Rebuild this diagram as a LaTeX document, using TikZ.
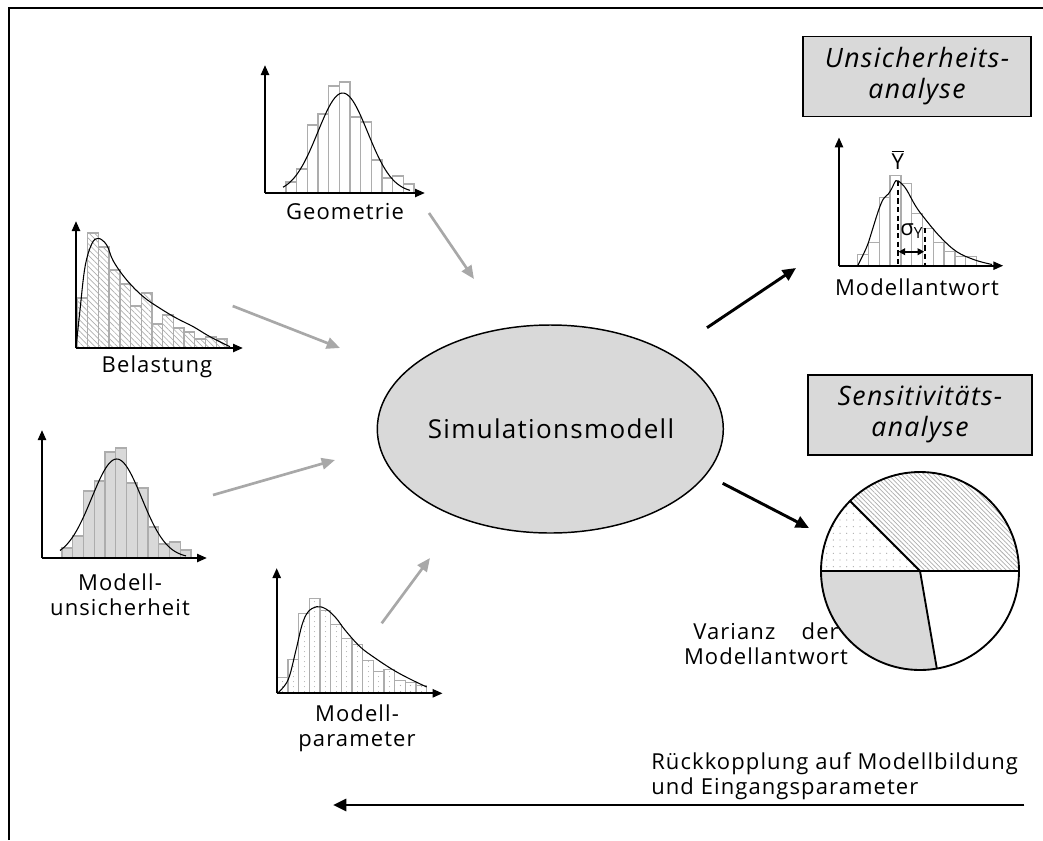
\documentclass[tikz,border=0pt]{standalone}
\usepackage{fontspec}
\setmainfont{Open Sans}[LetterSpace=5]
\usetikzlibrary{arrows.meta,patterns.meta,shapes.geometric}
\definecolor{barc}{gray}{0.68}
\definecolor{fillg}{gray}{0.85}
\definecolor{arrg}{gray}{0.66}
\newcommand\myhisto[5]{%
  \foreach \h [count=\i] in {#4} {\path[#5] ({#1+(\i-1)*#3},#2) rectangle ++(#3,-\h);}}
\begin{document}
\begin{tikzpicture}[x=0.75pt,y=-0.75pt,
  axis/.style={line width=1.7pt,-{Triangle[length=7.5pt,width=6pt]}},
  bar/.style={draw=barc,line width=1pt},
  curve/.style={line width=0.8pt,black},
  lbl/.style={font=\fontsize{16.5}{19}\selectfont,inner sep=0pt},
  garrow/.style={arrg,line width=2pt,-{Triangle[length=10pt,width=8.5pt]}},
  barrow/.style={black,line width=2.2pt,-{Triangle[length=10pt,width=9pt]}},
  titlebox/.style={draw=black,fill=fillg,line width=1pt},
  boxtxt/.style={font=\fontsize{20}{23}\selectfont\itshape,inner sep=0pt}]
\useasboundingbox (0,0) rectangle (1043,840);
% frame
\draw[line width=1.3pt] (9,840) -- (9,8) -- (1043,8);

% ---------- Geometrie ----------
\myhisto{286}{193}{10.67}{11,24,68,79,107,111,76,71,33,15,17,9}{bar,fill=white}
\draw[curve] plot[domain=283:410,samples=70,smooth] (\x,{193-100*exp(-((\x-342.7)/25)^2/2)});
\draw[axis] (265,193) -- (265,65);
\draw[axis] (265,193) -- (425,193);
\node[lbl] (geo) at (345,212) {Geometrie};

% ---------- Belastung ----------
\myhisto{77}{348}{10.71}{50,115,101,78,64,42,55,24,33,20,16,9,11,9}{bar,pattern={Lines[angle=-45,distance=3pt,line width=0.5pt]},pattern color=barc}
\draw[curve] plot[smooth,tension=0.6] coordinates {(76,348) (80,310) (85,267) (91.7,244) (98.3,238.3) (106.7,245) (113.3,261) (126.7,280) (143.3,296.7) (160,308.3) (176.7,318.3) (193.3,326.7) (210,336.7) (230,346.7)};
\draw[axis] (76,348) -- (76,221);
\draw[axis] (76,348) -- (243,348);
\node[lbl] (bel) at (157,367) {Belastung};

% ---------- Modellunsicherheit ----------
\myhisto{62}{558}{10.75}{10,22,67,77,106,110,75,70,31,14,16,8}{bar,fill=fillg}
\draw[curve] plot[domain=60:186,samples=70,smooth] (\x,{558-99*exp(-((\x-116.7)/25)^2/2)});
\draw[axis] (42,558) -- (42,430);
\draw[axis] (42,558) -- (207,558);
\node[lbl,align=center] (mu) at (120,595) {Modell-\\unsicherheit};

% ---------- Modellparameter ----------
\myhisto{277.3}{693.3}{10.67}{16,34,80,95,83,69,55,49,33,22,24,13,11,8}{bar,pattern={Dots[distance=4pt,radius=0.45pt]},pattern color=barc}
\draw[curve] plot[smooth,tension=0.6] coordinates {(277.3,693.3) (288,680) (296,650) (302,625) (308,612) (316.7,606.7) (326,609) (336,618) (345,630) (360,646.7) (375,658) (393.3,670) (410,679) (426.7,687)};
\draw[axis] (276.7,693.3) -- (276.7,568);
\draw[axis] (276.7,693.3) -- (442.7,693.3);
\node[lbl,align=center] (mp) at (357,728) {Modell-\\parameter};

% ---------- Simulationsmodell ----------
\node[ellipse,draw=black,fill=fillg,line width=1.1pt,minimum width=346*0.75pt,minimum height=208*0.75pt,inner sep=0pt] (sim) at (550.3,429) {};
\node[font=\fontsize{19.5}{22}\selectfont,inner sep=0pt] (simt) at (551,428.5) {Simulationsmodell};

% ---------- Modellantwort ----------
\myhisto{857.7}{265.7}{10.8}{11,23,68,90,82,52,37,23,14,9,9}{bar,fill=white}
\draw[curve] plot[smooth,tension=0.6] coordinates {(857.7,265.7) (866.7,247) (872,231) (878.3,211) (883.3,199) (888.3,194) (892,188) (896,180.7) (901,183) (906.7,190) (915,205) (923.3,216.7) (940,236.7) (956.7,251.7) (975,260) (992,264.5)};
\draw[line width=1.3pt,dash pattern=on 4pt off 2.5pt] (897.7,181) -- (897.7,265.7);
\draw[line width=1.3pt,dash pattern=on 4pt off 2.5pt] (925,228) -- (925,265.7);
\draw[line width=1.3pt,{Triangle[length=5pt,width=5pt]}-{Triangle[length=5pt,width=5pt]}] (898.5,251.7) -- (924.2,251.7);
\node[lbl] (ybar) at (897.7,160) {$\overline{\hbox{Y}}$};
\node[lbl,anchor=west] (sig) at (900,231) {σ\textsubscript{Y}};
\draw[axis] (839,265.7) -- (839,137.3);
\draw[axis] (839,265.7) -- (1003.3,265.7);
\node[lbl] (ma) at (917,287) {Modellantwort};

% ---------- boxes ----------
\node[titlebox,minimum width=228*0.75pt,minimum height=80*0.75pt,inner sep=0pt] (ub) at (917,76.7) {};
\node[boxtxt,align=center] at (917,76) {Unsicherheits-\\analyse};
\node[titlebox,minimum width=224*0.75pt,minimum height=80*0.75pt,inner sep=0pt] (sb) at (920,415) {};
\node[boxtxt,align=center] at (920,414.5) {Sensitivitäts-\\analyse};

% ---------- pie ----------
\begin{scope}[shift={(920,571)},y=0.75pt]
  \fill[pattern={Lines[angle=-45,distance=2.4pt,line width=0.55pt]},pattern color=barc] (0,0) -- (0:99) arc[start angle=0,end angle=135,radius=99] -- cycle;
  \fill[pattern={Dots[distance=5pt,radius=0.5pt]},pattern color=barc] (0,0) -- (135:99) arc[start angle=135,end angle=180,radius=99] -- cycle;
  \fill[fillg] (0,0) -- (180:99) arc[start angle=180,end angle=279.8,radius=99] -- cycle;
  \draw[line width=1.4pt] (0,0) circle[radius=99];
  \draw[line width=1.4pt] (180:99) -- (0:99);
  \draw[line width=1.4pt] (0,0) -- (135:99);
  \draw[line width=1.4pt] (0,0) -- (279.8:99);
\end{scope}
\node[lbl,align=center] (var) at (766,644) {Varianz\hspace{1.2em}der\\Modellantwort};

% ---------- arrows ----------
\coordinate (g1) at (429,213); \coordinate (g2) at (474,279);
\coordinate (b1) at (232.7,306); \coordinate (b2) at (340,348);
\coordinate (u1) at (213,495); \coordinate (u2) at (335,460);
\coordinate (p1) at (381.7,623.3); \coordinate (p2) at (430,558);
\draw[garrow] (g1) -- (g2);
\draw[garrow] (b1) -- (b2);
\draw[garrow] (u1) -- (u2);
\draw[garrow] (p1) -- (p2);
\coordinate (o1) at (707,327.7); \coordinate (o2) at (796,268);
\coordinate (s1) at (722.7,483.3); \coordinate (s2) at (809,528);
\draw[barrow] (o1) -- (o2);
\draw[barrow] (s1) -- (s2);

% ---------- feedback ----------
\coordinate (f1) at (1024.3,805); \coordinate (f2) at (333,805);
\draw[barrow] (f1) -- (f2);
\node[lbl,align=left,anchor=west] (fb) at (651,776) {Rückkopplung auf Modellbildung\\und Eingangsparameter};
\end{tikzpicture}
\end{document}
